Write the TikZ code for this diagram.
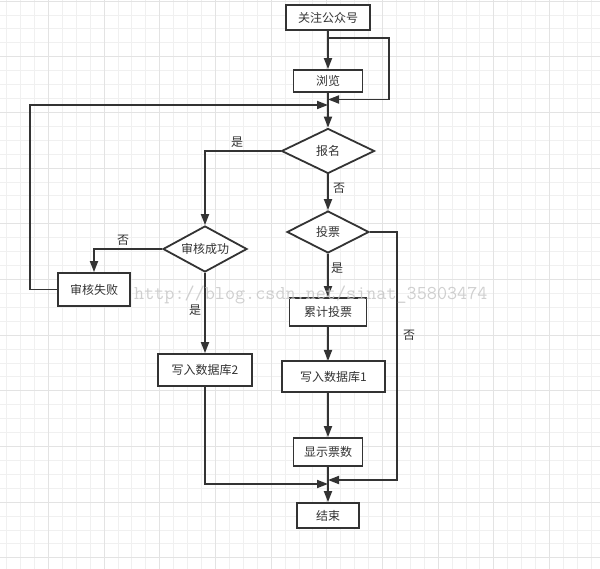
\documentclass[tikz,border=0pt]{standalone}
\usepackage{fontspec}
\setmainfont{Noto Sans CJK SC}
\usetikzlibrary{arrows.meta,shapes.geometric}
\definecolor{lineGray}{HTML}{333333}
\definecolor{gridMinorGray}{HTML}{F0F0F0}
\definecolor{gridMajorGray}{HTML}{E3E3E3}
\definecolor{markGray}{HTML}{C4C4C4}
\tikzset{%
  procBox/.style={draw=lineGray, line width=1.8pt, fill=white, inner sep=0pt, text=lineGray},%
  decision/.style={diamond, shape aspect=2, draw=lineGray, line width=1.8pt, fill=white, inner sep=0pt, text=lineGray},%
  flow/.style={draw=lineGray, line width=1.8pt, -{Triangle[length=11pt,width=8pt]}},%
  plainFlow/.style={draw=lineGray, line width=1.8pt},%
  answer/.style={text=lineGray, inner sep=0pt},%
}
\begin{document}
\begin{tikzpicture}[x=1pt,y=-1pt,font=\fontsize{12}{14}\selectfont]%
\useasboundingbox (0,0) rectangle (600,569);%
\fill[white] (0,0) rectangle (600,569);%
% grid
\foreach \k in {0,...,43} {%
  \draw[gridMinorGray, line width=1pt] ({6.7+13.92*\k},0) -- ++(0,569);%
  \draw[gridMinorGray, line width=1pt] (0,{1.1+13.92*\k}) -- ++(600,0);%
}%
\foreach \k in {0,...,10} {%
  \draw[gridMajorGray, line width=1pt] ({48.4+55.68*\k},0) -- ++(0,569);%
  \draw[gridMajorGray, line width=1pt] (0,{1.1+55.68*\k}) -- ++(600,0);%
}%
%
\def\mainX{328};%
% nodes
\node[procBox, minimum width=84pt, minimum height=25pt] (follow) at (\mainX,17.5) {关注公众号};%
\node[procBox, minimum width=69pt, minimum height=22pt] (browse) at (\mainX,81) {浏览};%
\node[decision, minimum width=93pt, minimum height=45pt] (signUp) at (\mainX,151) {报名};%
\node[decision, minimum width=82pt, minimum height=42pt] (vote) at (\mainX,232) {投票};%
\node[decision, minimum width=84pt, minimum height=46pt] (audit) at (205,249) {审核成功};%
\node[procBox, minimum width=72pt, minimum height=33pt] (auditFail) at (94,289.5) {审核失败};%
\node[procBox, minimum width=94pt, minimum height=32pt] (writeDbTwo) at (205,370) {写入数据库2};%
\node[procBox, minimum width=77pt, minimum height=28pt] (count) at (\mainX,312) {累计投票};%
\node[procBox, minimum width=103pt, minimum height=31pt] (writeDbOne) at (333.5,376.5) {写入数据库1};%
\node[procBox, minimum width=69pt, minimum height=28pt] (showCount) at (\mainX,452) {显示票数};%
\node[procBox, minimum width=62pt, minimum height=25pt] (finish) at (\mainX,515.5) {结束};%
%
\coordinate (loopStart) at (\mainX,38);%
\coordinate (loopEnd) at (\mainX,99.5);%
\coordinate (backEnd) at (\mainX,105);%
\coordinate (leftEnd) at (\mainX,484);%
\coordinate (rightEnd) at (\mainX,480);%
% connectors
\draw[flow] (follow) -- (browse);%
\draw[flow] (loopStart) -- (389,38) -- (389,99.5) -- (loopEnd);%
\draw[flow] (browse) -- (signUp);%
\draw[flow] (auditFail.west) -- (30,289.5) -- (30,105) -- (backEnd);%
\draw[flow] (signUp.west) -- (205,151) -- (audit.north);%
\draw[flow] (signUp) -- (vote);%
\draw[flow] (audit.west) -- (94,249) -- (auditFail.north);%
\draw[flow] (audit) -- (writeDbTwo);%
\draw[flow] (vote) -- (count);%
\draw[flow] (vote.east) -- (397,232) -- (397,480) -- (rightEnd);%
\draw[flow] (count.south) -- (\mainX,361);%
\draw[flow] (\mainX,392) -- (showCount.north);%
\draw[flow] (showCount) -- (finish);%
\draw[flow] (writeDbTwo.south) -- (205,484) -- (leftEnd);%
%
\node[answer] (yesSign) at (237,142) {是};%
\node[answer] (noSign) at (339,188) {否};%
\node[answer] (noAudit) at (123,240) {否};%
\node[answer] (yesAudit) at (195,310) {是};%
\node[answer] (yesVote) at (337,268) {是};%
\node[answer] (noVote) at (409,335) {否};%
%
\node[markGray, anchor=base west, inner sep=0pt, font=\ttfamily\fontsize{19.6}{21}\selectfont, opacity=0.8] (watermark) at (134,300) {http://blog.csdn.net/sinat\_35803474};%
\end{tikzpicture}
\end{document}
